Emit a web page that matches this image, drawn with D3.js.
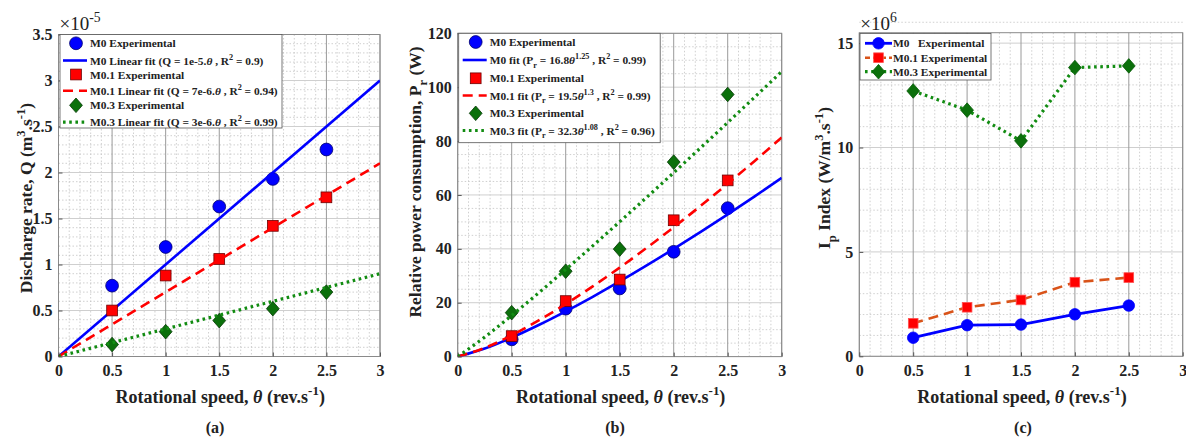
<!DOCTYPE html>
<html>
<head>
<meta charset="utf-8">
<script src="https://cdn.jsdelivr.net/npm/d3@7"></script>
<style>
  body { margin: 0; background: #fff; }
  svg, svg text { font-family: "Liberation Serif", "Times New Roman", "DejaVu Serif", serif; }
  svg text { font-weight: bold; fill: #222; white-space: pre; }
</style>
</head>
<body>
<svg id="chart" width="1186" height="439" font-family="Liberation Serif, Times New Roman, serif"></svg>
<script>
// ---- data ----
const xTicks = [0, 0.5, 1, 1.5, 2, 2.5, 3];
const xTickLabels = ["0", "0.5", "1", "1.5", "2", "2.5", "3"];
const speeds = [0.5, 1, 1.5, 2, 2.5];

// (a) discharge rate, x 1e-5 m3/s
const qTicks = [0, 0.5, 1, 1.5, 2, 2.5, 3, 3.5];
const qTickLabels = ["0", "0.5", "1", "1.5", "2", "2.5", "3", "3.5"];
const qM0 = [0.77, 1.19, 1.63, 1.93, 2.25];
const qM01 = [0.50, 0.88, 1.06, 1.42, 1.73];
const qM03 = [0.13, 0.27, 0.39, 0.52, 0.70];
const qFitSpeeds = [0, 3];
const qFitM0 = [0, 3.0];
const qFitM01 = [0, 2.1];
const qFitM03 = [0, 0.9];

// (b) relative power consumption, W
const pTicks = [0, 20, 40, 60, 80, 100, 120];
const pTickLabels = ["0", "20", "40", "60", "80", "100", "120"];
const pM0 = [6.4, 17.8, 25.3, 38.9, 55.1];
const pM01 = [7.6, 20.6, 28.6, 50.6, 65.4];
const pM03 = [16.3, 31.7, 39.9, 72.2, 97.3];
const pFitSpeeds = [0, 0.25, 0.5, 0.75, 1, 1.25, 1.5, 1.75, 2, 2.25, 2.5, 2.75, 3];
const pFitM0 = [0, 2.97, 7.06, 11.72, 16.8, 22.21, 27.89, 33.82, 39.96, 46.30, 52.81, 59.49, 66.33];
const pFitM01 = [0, 3.22, 7.92, 13.42, 19.5, 26.06, 33.03, 40.36, 48.01, 55.96, 64.18, 72.64, 81.33];
const pFitM03 = [0, 7.23, 15.28, 23.67, 32.3, 41.10, 50.05, 59.12, 68.28, 77.54, 86.89, 96.31, 105.81];

// (c) Ip index, x 1e6
const ipTicks = [0, 5, 10, 15];
const ipTickLabels = ["0", "5", "10", "15"];
const ipM0 = [0.89, 1.49, 1.52, 2.01, 2.43];
const ipM01 = [1.58, 2.35, 2.70, 3.55, 3.77];
const ipM03 = [12.71, 11.79, 10.32, 13.83, 13.91];

// ---- styles ----
const BLUE = "#0000ff", RED = "#ff0000", ORANGE = "#d95319";
const GREEN_M = "#0b700b", GREEN_L = "#128c12";
const DASH = "10,6", DOT = "2.6,3.6";
const SERIF = "Liberation Serif, Times New Roman, DejaVu Serif, serif";
const LEG_FS = 11.4;

const svg = d3.select("#chart");

// text with sub/superscripts: parts = [[text, kind]]
function richText(sel, parts, fs) {
    var shift = 0;
    sel.attr("font-family", SERIF);
    parts.forEach(function(p) {
        var target = p[1] === "sup" ? -0.42 * fs : (p[1] === "sub" ? 0.32 * fs : 0);
        var ts = sel.append("tspan").attr("dy", target - shift).text(p[0]);
        if (p[1] === "sup" || p[1] === "sub") ts.attr("font-size", 0.72 * fs);
        if (p[1] === "it") ts.attr("font-style", "italic");
        shift = target;
    });
    return sel;
}

function drawMarker(g, kind, cx, cy, size, fill, edge) {
    if (kind === "circle") {
        g.append("circle").attr("cx", cx).attr("cy", cy).attr("r", size / 2)
            .attr("fill", fill).attr("stroke", edge).attr("stroke-width", 0.8);
    } else if (kind === "square") {
        g.append("rect").attr("x", cx - size * 0.42).attr("y", cy - size * 0.42)
            .attr("width", size * 0.84).attr("height", size * 0.84)
            .attr("fill", fill).attr("stroke", edge).attr("stroke-width", 0.8);
    } else {
        var w = size * 0.5, h = size * 0.57;
        g.append("path")
            .attr("d", "M" + cx + "," + (cy - h) + "L" + (cx + w) + "," + cy + "L" + cx + "," + (cy + h) + "L" + (cx - w) + "," + cy + "Z")
            .attr("fill", fill).attr("stroke", edge).attr("stroke-width", 0.8);
    }
}

function drawPanel(p) {
    var x = d3.scaleLinear().domain([0, 3]).range([p.left, p.right]);
    var y = d3.scaleLinear().domain(p.yDomain).range([p.bottom, p.top]);
    var g = svg.append("g");

    g.append("clipPath").attr("id", "clip-" + p.id)
        .append("rect").attr("x", p.left).attr("y", p.top)
        .attr("width", p.right - p.left).attr("height", p.bottom - p.top);

    // minor grid
    var xMinor = d3.range(0, 31).filter(function(i) { return i % 5 !== 0; }).map(function(i) { return i / 10; });
    var nY = Math.round(p.yDomain[1] / p.yMinor);
    var per = Math.round(p.yMajor / p.yMinor);
    var yMinor = d3.range(0, nY + 1).filter(function(i) { return i % per !== 0; }).map(function(i) { return i * p.yMinor; });

    g.selectAll(null).data(xMinor).join("line")
        .attr("x1", d => x(d)).attr("x2", d => x(d)).attr("y1", p.top).attr("y2", p.bottom)
        .attr("stroke", "#c4c4c4").attr("stroke-width", 0.8).attr("stroke-dasharray", "1.5,2");
    g.selectAll(null).data(yMinor).join("line")
        .attr("x1", p.left).attr("x2", p.right).attr("y1", d => y(d)).attr("y2", d => y(d))
        .attr("stroke", "#c4c4c4").attr("stroke-width", 0.8).attr("stroke-dasharray", "1.5,2");

    // major grid
    g.selectAll(null).data(p.yTicks).join("line")
        .attr("x1", p.left).attr("x2", p.right).attr("y1", d => y(d)).attr("y2", d => y(d))
        .attr("stroke", "#cfcfcf").attr("stroke-width", 1);
    g.selectAll(null).data(xTicks).join("line")
        .attr("x1", d => x(d)).attr("x2", d => x(d)).attr("y1", p.top).attr("y2", p.bottom)
        .attr("stroke", "#9a9a9a").attr("stroke-width", 1);

    // box
    g.append("rect").attr("x", p.left).attr("y", p.top)
        .attr("width", p.right - p.left).attr("height", p.bottom - p.top)
        .attr("fill", "none").attr("stroke", "#8a8a8a").attr("stroke-width", 1);

    // axes
    var ax = g.append("g").attr("transform", "translate(0," + p.bottom + ")")
        .call(d3.axisBottom(x).tickValues(xTicks).tickSize(-4).tickPadding(8.5)
            .tickFormat(function(d, i) { return xTickLabels[i]; }));
    var ay = g.append("g").attr("transform", "translate(" + p.left + ",0)")
        .call(d3.axisLeft(y).tickValues(p.yTicks).tickSize(-4).tickPadding(6)
            .tickFormat(function(d, i) { return p.yLabels[i]; }));
    [ax, ay].forEach(function(a) {
        a.attr("font-size", 16).attr("font-family", SERIF).attr("color", "#555");
        a.select(".domain").remove();
        a.selectAll("text").attr("font-family", SERIF).style("fill", "#222");
    });

    // axis titles
    richText(g.append("text").attr("x", (p.left + p.right) / 2 + 1).attr("y", 403)
        .attr("text-anchor", "middle").attr("font-size", 18),
        [["Rotational speed, ", ""], ["θ", "it"], [" (rev.s", ""], ["-1", "sup"], [")", ""]], 18);
    richText(g.append("text").attr("transform", "translate(" + p.yTitleX + "," + p.yTitleY + ") rotate(-90)")
        .attr("text-anchor", "middle").attr("font-size", 17.5), p.yTitle, 17.5);
    g.append("text").attr("x", p.labelX).attr("y", 433).attr("text-anchor", "middle")
        .attr("font-family", SERIF).attr("font-size", 16).text(p.label);
    if (p.exponent) {
        richText(g.append("text").attr("x", p.left + 1).attr("y", 29.5).attr("font-size", 19)
            .style("font-weight", "normal"), p.exponent, 19);
    }

    // series
    var plot = g.append("g").attr("clip-path", "url(#clip-" + p.id + ")");
    p.series.forEach(function(s) {
        var lg = plot.append("g");
        var line = d3.line().x(d => x(d[0])).y(d => y(d[1])).curve(s.curve || d3.curveLinear);
        if (s.markersFirst) {
            s.vals.forEach(function(v, i) {
                drawMarker(lg, s.marker, x(speeds[i]), y(v), s.size, s.fill, s.edge);
            });
        }
        lg.append("path").datum(d3.zip(s.lineX, s.lineY))
            .attr("d", line).attr("fill", "none").attr("stroke", s.lineColor)
            .attr("stroke-width", s.lineWidth).attr("stroke-dasharray", s.dash);
        if (!s.markersFirst) {
            s.vals.forEach(function(v, i) {
                drawMarker(lg, s.marker, x(speeds[i]), y(v), s.size, s.fill, s.edge);
            });
        }
    });

    // legend
    var L = p.legend;
    var lg = g.append("g");
    lg.append("rect").attr("x", L.x).attr("y", L.y).attr("width", L.w).attr("height", L.h)
        .attr("fill", "#fff").attr("stroke", "#555").attr("stroke-width", 0.8);
    L.items.forEach(function(it, i) {
        var cy = L.rows[i];
        if (it.line) {
            lg.append("line").attr("x1", L.x + L.lineX[0]).attr("x2", L.x + L.lineX[1])
                .attr("y1", cy).attr("y2", cy).attr("stroke", it.line)
                .attr("stroke-width", it.lineWidth).attr("stroke-dasharray", it.dash);
        }
        if (it.marker) drawMarker(lg, it.marker, L.x + L.markX, cy, it.size, it.fill, it.edge);
        richText(lg.append("text").attr("x", L.x + L.textX).attr("y", cy + 4).attr("font-size", LEG_FS),
            it.text, LEG_FS);
    });
}

// ---- panel (a) ----
drawPanel({
    id: "a", left: 58.5, right: 380, top: 34.5, bottom: 356.5,
    yDomain: [0, 3.5], yTicks: qTicks, yLabels: qTickLabels, yMinor: 0.1, yMajor: 0.5,
    yTitleX: 32, yTitleY: 198, labelX: 215, label: "(a)",
    yTitle: [["Discharge rate, Q (m", ""], ["3", "sup"], [".s", ""], ["-1", "sup"], [")", ""]],
    exponent: [["×10", ""], ["-5", "sup"]],
    series: [
        {vals: qM0, marker: "circle", size: 12.8, fill: BLUE, edge: "#00006e", markersFirst: true,
         lineX: qFitSpeeds, lineY: qFitM0, lineColor: BLUE, lineWidth: 2.6, dash: null},
        {vals: qM01, marker: "square", size: 12.8, fill: RED, edge: "#6e0000", markersFirst: true,
         lineX: qFitSpeeds, lineY: qFitM01, lineColor: RED, lineWidth: 2.6, dash: DASH},
        {vals: qM03, marker: "diamond", size: 12.8, fill: GREEN_M, edge: "#043804", markersFirst: true,
         lineX: qFitSpeeds, lineY: qFitM03, lineColor: GREEN_L, lineWidth: 3.2, dash: DOT}
    ],
    legend: {
        x: 60, y: 34.5, w: 222, h: 93.5, lineX: [3, 27], markX: 16, textX: 30,
        rows: [43.3, 60.5, 74.5, 90.7, 105.3, 122.2],
        items: [
            {marker: "circle", size: 12.8, fill: BLUE, edge: "#00006e", text: [["M0 Experimental", ""]]},
            {line: BLUE, lineWidth: 2.6, text: [["M0 Linear fit (Q = 1e-5.", ""], ["θ", "it"], [" , R", ""], ["2", "sup"], [" = 0.9)", ""]]},
            {marker: "square", size: 12.8, fill: RED, edge: "#6e0000", text: [["M0.1 Experimental", ""]]},
            {line: RED, lineWidth: 2.6, dash: DASH, text: [["M0.1 Linear fit (Q = 7e-6.", ""], ["θ", "it"], [" , R", ""], ["2", "sup"], [" = 0.94)", ""]]},
            {marker: "diamond", size: 12.8, fill: GREEN_M, edge: "#043804", text: [["M0.3 Experimental", ""]]},
            {line: GREEN_L, lineWidth: 3.2, dash: DOT, text: [["M0.3 Linear fit (Q = 3e-6.", ""], ["θ", "it"], [" , R", ""], ["2", "sup"], [" = 0.99)", ""]]}
        ]
    }
});

// ---- panel (b) ----
drawPanel({
    id: "b", left: 457.7, right: 781.7, top: 33.3, bottom: 356.6,
    yDomain: [0, 120], yTicks: pTicks, yLabels: pTickLabels, yMinor: 5, yMajor: 20,
    yTitleX: 421, yTitleY: 182, labelX: 615, label: "(b)",
    yTitle: [["Relative power consumption, P", ""], ["r", "sub"], [" (W)", ""]],
    series: [
        {vals: pM0, marker: "circle", size: 12.8, fill: BLUE, edge: "#00006e", markersFirst: true,
         lineX: pFitSpeeds, lineY: pFitM0, lineColor: BLUE, lineWidth: 2.6, dash: null, curve: d3.curveMonotoneX},
        {vals: pM01, marker: "square", size: 12.8, fill: RED, edge: "#6e0000", markersFirst: true,
         lineX: pFitSpeeds, lineY: pFitM01, lineColor: RED, lineWidth: 2.6, dash: DASH, curve: d3.curveMonotoneX},
        {vals: pM03, marker: "diamond", size: 12.8, fill: GREEN_M, edge: "#043804", markersFirst: true,
         lineX: pFitSpeeds, lineY: pFitM03, lineColor: GREEN_L, lineWidth: 3.2, dash: DOT, curve: d3.curveMonotoneX}
    ],
    legend: {
        x: 458.7, y: 33.3, w: 201.5, h: 109.4, lineX: [4, 28], markX: 17, textX: 31,
        rows: [42, 60, 78.3, 95.5, 113.3, 130.5],
        items: [
            {marker: "circle", size: 12.8, fill: BLUE, edge: "#00006e", text: [["M0 Experimental", ""]]},
            {line: BLUE, lineWidth: 2.6, text: [["M0 fit (P", ""], ["r", "sub"], [" = 16.8", ""], ["θ", "it"], ["1.25", "sup"], [" , R", ""], ["2", "sup"], [" = 0.99)", ""]]},
            {marker: "square", size: 12.8, fill: RED, edge: "#6e0000", text: [["M0.1 Experimental", ""]]},
            {line: RED, lineWidth: 2.6, dash: DASH, text: [["M0.1 fit (P", ""], ["r", "sub"], [" = 19.5", ""], ["θ", "it"], ["1.3", "sup"], [" , R", ""], ["2", "sup"], [" = 0.99)", ""]]},
            {marker: "diamond", size: 12.8, fill: GREEN_M, edge: "#043804", text: [["M0.3 Experimental", ""]]},
            {line: GREEN_L, lineWidth: 3.2, dash: DOT, text: [["M0.3 fit (P", ""], ["r", "sub"], [" = 32.3", ""], ["θ", "it"], ["1.08", "sup"], [" , R", ""], ["2", "sup"], [" = 0.96)", ""]]}
        ]
    }
});

// ---- panel (c) ----
drawPanel({
    id: "c", left: 859.3, right: 1182.7, top: 32.7, bottom: 356.3,
    yDomain: [0, 15.5], yTicks: ipTicks, yLabels: ipTickLabels, yMinor: 1, yMajor: 5,
    yTitleX: 830, yTitleY: 178, labelX: 1023, label: "(c)",
    yTitle: [["I", ""], ["p", "sub"], [" Index (W/m", ""], ["3", "sup"], [".s", ""], ["-1", "sup"], [")", ""]],
    exponent: [["×10", ""], ["6", "sup"]],
    series: [
        {vals: ipM0, marker: "circle", size: 11.5, fill: BLUE, edge: BLUE,
         lineX: speeds, lineY: ipM0, lineColor: BLUE, lineWidth: 2.8, dash: null},
        {vals: ipM01, marker: "square", size: 11.5, fill: RED, edge: "#ff5050",
         lineX: speeds, lineY: ipM01, lineColor: ORANGE, lineWidth: 2.6, dash: DASH},
        {vals: ipM03, marker: "diamond", size: 12.8, fill: GREEN_M, edge: "#085a08",
         lineX: speeds, lineY: ipM03, lineColor: GREEN_L, lineWidth: 3.2, dash: DOT}
    ],
    legend: {
        x: 860, y: 33.5, w: 131, h: 46.5, lineX: [5, 32], markX: 18.5, textX: 33,
        rows: [43.3, 57.7, 71.7],
        items: [
            {line: BLUE, lineWidth: 2.8, marker: "circle", size: 11.5, fill: BLUE, edge: BLUE, text: [["M0   Experimental", ""]]},
            {line: ORANGE, lineWidth: 2.6, dash: "5,3", marker: "square", size: 11.5, fill: RED, edge: "#ff5050", text: [["M0.1 Experimental", ""]]},
            {line: GREEN_L, lineWidth: 3.2, dash: DOT, marker: "diamond", size: 12.8, fill: GREEN_M, edge: "#085a08", text: [["M0.3 Experimental", ""]]}
        ]
    }
});
</script>
</body>
</html>
